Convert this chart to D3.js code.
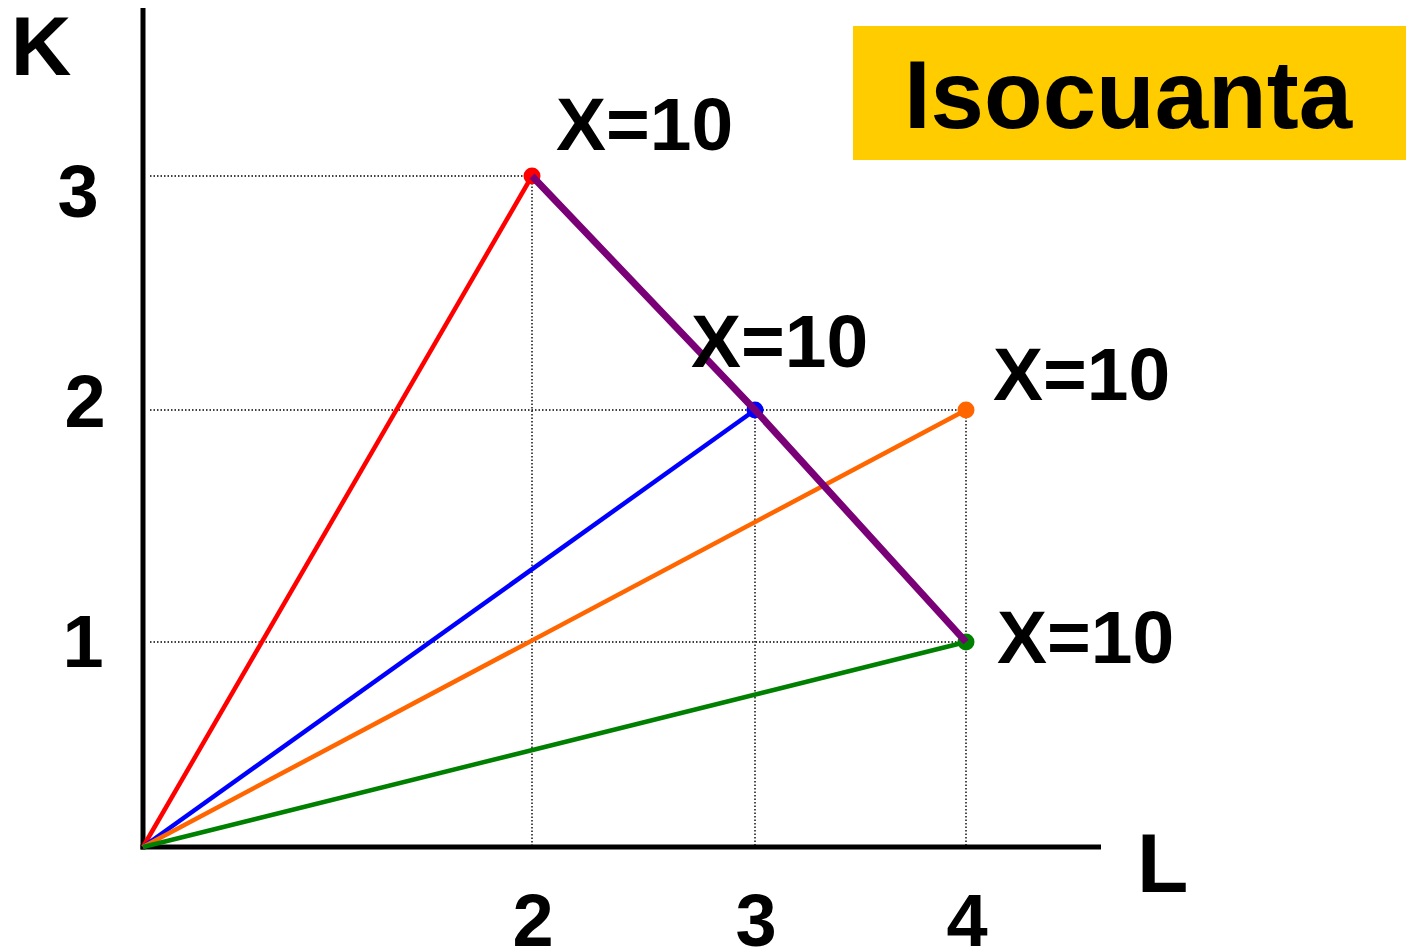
<!DOCTYPE html>
<html>
<head>
<meta charset="utf-8">
<script src="https://cdn.jsdelivr.net/npm/d3@7"></script>
<style>
  html, body { margin: 0; padding: 0; background: #fff; }
  svg { display: block; font-family: "Liberation Sans", Arial, sans-serif; font-weight: bold; }
</style>
</head>
<body>
<svg id="chart" width="1406" height="952"></svg>
<script>
// ---- data ----
const xTicks = [2, 3, 4];
const yTicks = [1, 2, 3];
const rayPoints = [
  { L: 2, K: 3, color: "#ff0000", label: "X=10" },
  { L: 3, K: 2, color: "#0000ff", label: "X=10" },
  { L: 4, K: 2, color: "#ff6600", label: "X=10" },
  { L: 4, K: 1, color: "#008000", label: "X=10" }
];
const isoquant = [ { L: 2, K: 3 }, { L: 3, K: 2 }, { L: 4, K: 1 } ];
const gridH = [ { K: 3, L: 2 }, { K: 2, L: 4 }, { K: 1, L: 4 } ];
const gridV = [ { L: 2, K: 3 }, { L: 3, K: 2 }, { L: 4, K: 2 } ];
const title = "Isocuanta";

// ---- layout ----
const labelOffsets = [ [24, -26], [-64, -43], [27, -10], [31, 21] ];
const svg = d3.select("#chart");
const x = d3.scaleLinear().domain([0, 2, 3, 4]).range([143, 532, 755, 966]);
const y = d3.scaleLinear().domain([0, 1, 2, 3]).range([847, 642, 410, 176]);

// title box
svg.append("rect").attr("x", 853).attr("y", 26).attr("width", 553).attr("height", 134).attr("fill", "#ffcc00");
svg.append("text").attr("x", 1128).attr("y", 128).attr("text-anchor", "middle")
  .attr("font-size", 96).attr("fill", "#000").text(title);

// dotted grid lines
const dotStyle = sel => sel.attr("stroke", "#000").attr("stroke-width", 1.4).attr("stroke-dasharray", "1.5,2");
svg.selectAll("line.gh").data(gridH).enter().append("line")
  .attr("x1", x(0) + 7).attr("x2", d => x(d.L))
  .attr("y1", d => y(d.K)).attr("y2", d => y(d.K))
  .call(dotStyle);
svg.selectAll("line.gv").data(gridV).enter().append("line")
  .attr("x1", d => x(d.L)).attr("x2", d => x(d.L))
  .attr("y1", d => y(d.K)).attr("y2", y(0))
  .call(dotStyle);

// axes
svg.append("line").attr("x1", x(0)).attr("x2", x(0)).attr("y1", 8).attr("y2", y(0) + 2.5)
  .attr("stroke", "#000").attr("stroke-width", 5);
svg.append("line").attr("x1", x(0) - 2.5).attr("x2", 1101).attr("y1", y(0)).attr("y2", y(0))
  .attr("stroke", "#000").attr("stroke-width", 5);

// rays from origin
svg.selectAll("line.ray").data(rayPoints).enter().append("line")
  .attr("x1", x(0)).attr("y1", y(0))
  .attr("x2", d => x(d.L)).attr("y2", d => y(d.K))
  .attr("stroke", d => d.color).attr("stroke-width", 4.5);

// points
svg.selectAll("circle.pt").data(rayPoints).enter().append("circle")
  .attr("cx", d => x(d.L)).attr("cy", d => y(d.K)).attr("r", 8.5)
  .attr("fill", d => d.color);

// isoquant
svg.append("path").datum(isoquant)
  .attr("d", d3.line().x(d => x(d.L)).y(d => y(d.K)))
  .attr("fill", "none").attr("stroke", "#7a0078").attr("stroke-width", 7);

// labels
svg.selectAll("text.lbl").data(rayPoints).enter().append("text")
  .attr("x", (d, i) => x(d.L) + labelOffsets[i][0])
  .attr("y", (d, i) => y(d.K) + labelOffsets[i][1])
  .attr("font-size", 75).attr("fill", "#000").text(d => d.label);

// tick labels
svg.selectAll("text.xt").data(xTicks).enter().append("text")
  .attr("x", d => x(d) + 1).attr("y", 946).attr("text-anchor", "middle")
  .attr("font-size", 74).text(d => d);
const yDy = [25, 17, 41];
const yX = [83, 85, 78];
svg.selectAll("text.yt").data(yTicks).enter().append("text")
  .attr("x", (d, i) => yX[i]).attr("y", (d, i) => y(d) + yDy[i]).attr("text-anchor", "middle")
  .attr("font-size", 74).text(d => d);

// axis names
svg.append("text").attr("x", 41).attr("y", 75).attr("text-anchor", "middle").attr("font-size", 84).text("K");
svg.append("text").attr("x", 1137).attr("y", 892).attr("font-size", 84).text("L");
</script>
</body>
</html>
